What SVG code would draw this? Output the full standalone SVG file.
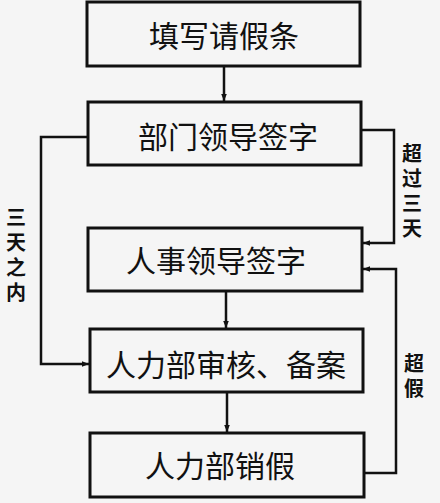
<svg xmlns="http://www.w3.org/2000/svg" width="440" height="503" viewBox="0 0 440 503">
<style>
.box{fill:none;stroke:#111;stroke-width:3}
.t{font-family:"Noto Sans CJK SC","Noto Sans",sans-serif;font-size:30px;fill:#111;text-anchor:middle;dominant-baseline:central}
.s{font-family:"Noto Sans CJK SC","Noto Sans",sans-serif;font-size:20px;fill:#111;text-anchor:middle;font-weight:bold;writing-mode:vertical-rl;letter-spacing:5px}
.c{fill:none;stroke:#111;stroke-width:2.5;marker-end:url(#a)}
</style>
<defs>
<marker id="a" viewBox="0 0 10 10" refX="10" refY="5" markerWidth="7" markerHeight="7" markerUnits="userSpaceOnUse" orient="auto">
<path d="M0,1 L10,5 L0,9 Z" fill="#111"/>
</marker>
</defs>
<rect width="440" height="503" fill="#f5f5f5"/>
<g id="connectors">
<path class="c" d="M224,66 V101"/>
<path class="c" d="M226,291 V328"/>
<path class="c" d="M227,392 V432"/>
<path class="c" d="M88,137 H41 V364 H89"/>
<path class="c" d="M361,130 H394 V243 H363"/>
<path class="c" d="M364,473 H396 V269 H363"/>
</g>
<g id="n1"><rect class="box" x="87" y="2" width="273" height="64"/><text class="t" x="224" y="34">填写请假条</text></g>
<g id="n2"><rect class="box" x="88" y="102" width="273" height="63"/><text class="t" x="228" y="135">部门领导签字</text></g>
<g id="n3"><rect class="box" x="88" y="228" width="274" height="63"/><text class="t" x="216" y="259">人事领导签字</text></g>
<g id="n4"><rect class="box" x="90" y="329" width="273" height="63"/><text class="t" x="226" y="363">人力部审核、备案</text></g>
<g id="n5"><rect class="box" x="90" y="433" width="274" height="64"/><text class="t" x="220" y="464">人力部销假</text></g>
<g id="labels">
<text class="s" x="412" y="193">超过三天</text>
<text class="s" x="16" y="257">三天之内</text>
<text class="s" x="414" y="378">超假</text>
</g>
</svg>
